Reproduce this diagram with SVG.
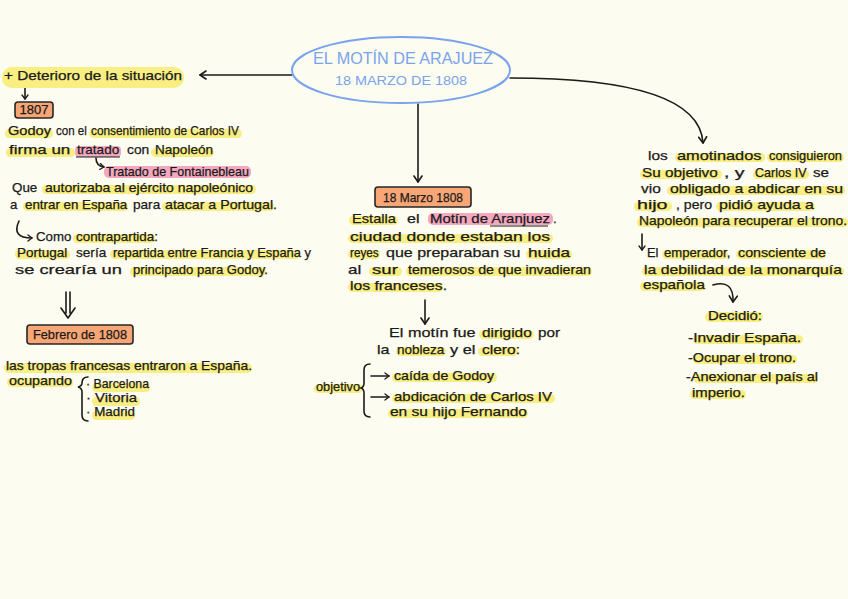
<svg xmlns="http://www.w3.org/2000/svg" width="848" height="599" viewBox="0 0 848 599">
<defs>
<style>
.t{font-family:"Liberation Sans",Arial,sans-serif;font-size:13px;fill:#1a1a1a;stroke:#1a1a1a;stroke-width:0.25}
.hy{fill:#f8ee82}
.hp{fill:#f4a8c0}
.box{fill:#f9a676;stroke:#262626;stroke-width:1.6}
.c{stroke:#1a1a1a;stroke-width:1.6;fill:none;stroke-linecap:round}
.ttl{font-family:"Liberation Sans",Arial,sans-serif;fill:#79a3ec;text-anchor:middle}
</style>
<marker id="ah" markerWidth="10" markerHeight="10" refX="7" refY="5" orient="auto" markerUnits="userSpaceOnUse"><path d="M1,1 L7,5 L1,9" fill="none" stroke="#1a1a1a" stroke-width="1.6" stroke-linecap="round" stroke-linejoin="round"/></marker>
<marker id="ahs" markerWidth="8" markerHeight="8" refX="5" refY="4" orient="auto" markerUnits="userSpaceOnUse"><path d="M1,1 L5,4 L1,7" fill="none" stroke="#1a1a1a" stroke-width="1.3" stroke-linecap="round" stroke-linejoin="round"/></marker>
</defs>
<rect width="848" height="599" fill="#fdfcf0"/>

<g id="connectors">
<path class="c" d="M292 75 L200 75" marker-end="url(#ah)"/>
<path class="c" d="M418 104 L418 182" marker-end="url(#ah)"/>
<path class="c" d="M510 78 C610 78 700 92 703 143" marker-end="url(#ah)"/>
<path class="c" d="M25 87 L25 99" marker-end="url(#ahs)"/>
<path class="c" d="M96 158 Q96 166 104 167" stroke-width="1.2" marker-end="url(#ahs)"/>
<path class="c" d="M19 221 Q11 238 32 238" marker-end="url(#ahs)"/>
<path class="c" d="M66 292 L66 313 M70 292 L70 313 M61 308 L68 318 L75 308" stroke-linejoin="round"/>
<path class="c" d="M425 300 L425 324" marker-end="url(#ah)"/>
<path class="c" d="M371 376 L389 376" stroke-width="1.3" marker-end="url(#ahs)"/>
<path class="c" d="M371 397 L389 397" stroke-width="1.3" marker-end="url(#ahs)"/>
<path class="c" d="M642 234 L642 250" marker-end="url(#ahs)"/>
<path class="c" d="M713 285 Q734 279 733 302" marker-end="url(#ah)"/>
</g>

<g id="n-title">
<ellipse cx="401" cy="70" rx="109" ry="33" fill="none" stroke="#79a3ec" stroke-width="2"/>
<text class="ttl" x="403" y="64" font-size="16" textLength="180" lengthAdjust="spacingAndGlyphs">EL MOTÍN DE ARAJUEZ</text>
<text class="ttl" x="401" y="85" font-size="13" textLength="132" lengthAdjust="spacingAndGlyphs">18 MARZO DE 1808</text>
</g>

<g id="n-deterioro">
<rect class="hy" x="2" y="67" width="182" height="21" rx="10"/>
<text class="t" y="80" font-size="16"><tspan x="4" textLength="178" lengthAdjust="spacingAndGlyphs">+ Deterioro de la situación</tspan></text>
</g>

<g id="n-1807">
<rect class="box" x="15" y="102" width="38" height="16" rx="3"/>
<text class="t" x="34" y="114" font-size="11" text-anchor="middle">1807</text>
</g>

<g id="n-godoy">
<rect class="hy" x="5" y="129" width="48" height="9" rx="4.5"/>
<rect class="hy" x="89" y="129" width="153" height="9" rx="4.5"/>
<text class="t" y="135"><tspan x="8" textLength="47" lengthAdjust="spacingAndGlyphs">Godoy </tspan><tspan x="56" textLength="34" lengthAdjust="spacingAndGlyphs">con el </tspan><tspan x="91" textLength="148" lengthAdjust="spacingAndGlyphs">consentimiento de Carlos IV</tspan></text>
<rect class="hy" x="6" y="148" width="69" height="9" rx="4.5"/>
<rect class="hp" x="75" y="146" width="46" height="11" rx="4"/>
<rect class="hy" x="151" y="148" width="63" height="9" rx="4.5"/>
<path d="M76 157 L120 157" stroke="#1a1a1a" stroke-width="1.2"/>
<text class="t" y="154"><tspan x="9" textLength="66" lengthAdjust="spacingAndGlyphs">firma un </tspan><tspan x="77" textLength="46" lengthAdjust="spacingAndGlyphs">tratado </tspan><tspan x="127" textLength="26" lengthAdjust="spacingAndGlyphs">con </tspan><tspan x="155" textLength="58" lengthAdjust="spacingAndGlyphs">Napoleón</tspan></text>
<rect class="hp" x="104" y="166" width="147" height="12" rx="5"/>
<text class="t" y="176"><tspan x="106" textLength="143" lengthAdjust="spacingAndGlyphs">Tratado de Fontainebleau</tspan></text>
<rect class="hy" x="42" y="185" width="214" height="9" rx="4.5"/>
<text class="t" y="192"><tspan x="12" textLength="29" lengthAdjust="spacingAndGlyphs">Que </tspan><tspan x="45" textLength="208" lengthAdjust="spacingAndGlyphs">autorizaba al ejército napoleónico</tspan></text>
<rect class="hy" x="23" y="202" width="105" height="9" rx="4.5"/>
<rect class="hy" x="162" y="202" width="112" height="9" rx="4.5"/>
<text class="t" y="209"><tspan x="10" textLength="11" lengthAdjust="spacingAndGlyphs">a </tspan><tspan x="25" textLength="106" lengthAdjust="spacingAndGlyphs">entrar en España </tspan><tspan x="133" textLength="31" lengthAdjust="spacingAndGlyphs">para </tspan><tspan x="165" textLength="112" lengthAdjust="spacingAndGlyphs">atacar a Portugal.</tspan></text>
<rect class="hy" x="73" y="234" width="82" height="9" rx="4.5"/>
<text class="t" y="241"><tspan x="36" textLength="39" lengthAdjust="spacingAndGlyphs">Como </tspan><tspan x="76" textLength="82" lengthAdjust="spacingAndGlyphs">contrapartida:</tspan></text>
<rect class="hy" x="15" y="250" width="55" height="9" rx="4.5"/>
<rect class="hy" x="110" y="250" width="190" height="9" rx="4.5"/>
<text class="t" y="257"><tspan x="17" textLength="54" lengthAdjust="spacingAndGlyphs">Portugal </tspan><tspan x="76" textLength="34" lengthAdjust="spacingAndGlyphs">sería </tspan><tspan x="113" textLength="198" lengthAdjust="spacingAndGlyphs">repartida entre Francia y España y</tspan></text>
<rect class="hy" x="130" y="267" width="136" height="9" rx="4.5"/>
<text class="t" y="274"><tspan x="15" textLength="112" lengthAdjust="spacingAndGlyphs">se crearía un </tspan><tspan x="133" textLength="135" lengthAdjust="spacingAndGlyphs">principado para Godoy.</tspan></text>
</g>

<g id="n-febrero">
<rect class="box" x="27" y="325" width="106" height="19" rx="3"/>
<text class="t" x="80" y="339" font-size="12" text-anchor="middle" textLength="94" lengthAdjust="spacingAndGlyphs">Febrero de 1808</text>
</g>

<g id="n-tropas">
<rect class="hy" x="4" y="363" width="248" height="10" rx="5"/>
<text class="t" y="370"><tspan x="6" textLength="246" lengthAdjust="spacingAndGlyphs">las tropas francesas entraron a España.</tspan></text>
<rect class="hy" x="7" y="378" width="66" height="9" rx="4.5"/>
<text class="t" y="385"><tspan x="9" textLength="63" lengthAdjust="spacingAndGlyphs">ocupando</tspan></text>
<path class="c" d="M88 377 Q82 377 82 383 Q82 386 78 387 Q82 388 82 392 L82 415 Q82 421 88 421" stroke-width="1.4"/>
<rect class="hy" x="92" y="383" width="58" height="9" rx="4.5"/>
<rect class="hy" x="92" y="397" width="48" height="9" rx="4.5"/>
<rect class="hy" x="92" y="411" width="43" height="9" rx="4.5"/>
<text class="t" font-size="10" x="86" y="388" textLength="63" lengthAdjust="spacingAndGlyphs">· Barcelona</text>
<text class="t" font-size="10" x="86" y="402" textLength="51" lengthAdjust="spacingAndGlyphs">· Vitoria</text>
<text class="t" font-size="10" x="86" y="416" textLength="49" lengthAdjust="spacingAndGlyphs">· Madrid</text>
</g>

<g id="n-marzo">
<rect class="box" x="375" y="187" width="96" height="20" rx="3"/>
<text class="t" x="423" y="202" font-size="12" text-anchor="middle" textLength="80" lengthAdjust="spacingAndGlyphs">18 Marzo 1808</text>
</g>

<g id="n-estalla">
<rect class="hy" x="349" y="216" width="49" height="9" rx="4.5"/>
<rect class="hp" x="428" y="213" width="125" height="12" rx="5"/>
<path d="M490 226 L548 226" stroke="#1a1a1a" stroke-width="1.2"/>
<text class="t" y="223"><tspan x="352" textLength="48" lengthAdjust="spacingAndGlyphs">Estalla </tspan><tspan x="407" textLength="17" lengthAdjust="spacingAndGlyphs">el </tspan><tspan x="430" textLength="120" lengthAdjust="spacingAndGlyphs">Motín de Aranjuez</tspan><tspan x="553">.</tspan></text>
<rect class="hy" x="348" y="234" width="205" height="9" rx="4.5"/>
<text class="t" y="241"><tspan x="350" textLength="200" lengthAdjust="spacingAndGlyphs">ciudad donde estaban los</tspan></text>
<rect class="hy" x="348" y="250" width="32" height="9" rx="4.5"/>
<rect class="hy" x="526" y="250" width="46" height="9" rx="4.5"/>
<text class="t" y="257"><tspan x="350" textLength="32" lengthAdjust="spacingAndGlyphs">reyes </tspan><tspan x="386" textLength="139" lengthAdjust="spacingAndGlyphs">que preparaban su </tspan><tspan x="528" textLength="42" lengthAdjust="spacingAndGlyphs">huida</tspan></text>
<rect class="hy" x="369" y="267" width="33" height="9" rx="4.5"/>
<rect class="hy" x="406" y="267" width="186" height="9" rx="4.5"/>
<text class="t" y="274"><tspan x="348" textLength="18" lengthAdjust="spacingAndGlyphs">al </tspan><tspan x="372" textLength="31" lengthAdjust="spacingAndGlyphs">sur </tspan><tspan x="408" textLength="183" lengthAdjust="spacingAndGlyphs">temerosos de que invadieran</tspan></text>
<rect class="hy" x="348" y="283" width="95" height="9" rx="4.5"/>
<text class="t" y="290"><tspan x="350" textLength="97" lengthAdjust="spacingAndGlyphs">los franceses.</tspan></text>
</g>

<g id="n-motin">
<rect class="hy" x="479" y="330" width="55" height="9" rx="4.5"/>
<text class="t" y="337"><tspan x="389" textLength="91" lengthAdjust="spacingAndGlyphs">El motín fue </tspan><tspan x="482" textLength="54" lengthAdjust="spacingAndGlyphs">dirigido </tspan><tspan x="538" textLength="22" lengthAdjust="spacingAndGlyphs">por</tspan></text>
<rect class="hy" x="396" y="347" width="50" height="9" rx="4.5"/>
<rect class="hy" x="478" y="347" width="40" height="9" rx="4.5"/>
<text class="t" y="354"><tspan x="377" textLength="17" lengthAdjust="spacingAndGlyphs">la </tspan><tspan x="397" textLength="51" lengthAdjust="spacingAndGlyphs">nobleza </tspan><tspan x="450" textLength="30" lengthAdjust="spacingAndGlyphs">y el </tspan><tspan x="482" textLength="38" lengthAdjust="spacingAndGlyphs">clero:</tspan></text>
</g>

<g id="n-objetivo">
<rect class="hy" x="314" y="384" width="49" height="9" rx="4.5"/>
<text class="t" y="391"><tspan x="316" textLength="44" lengthAdjust="spacingAndGlyphs">objetivo</tspan></text>
<path class="c" d="M370 364 Q364 364 364 370 L364 383 Q364 387 361 388 Q364 389 364 393 L364 411 Q364 417 370 417" stroke-width="1.4"/>
<rect class="hy" x="392" y="373" width="105" height="9" rx="4.5"/>
<text class="t" y="380"><tspan x="394" textLength="100" lengthAdjust="spacingAndGlyphs">caída de Godoy</tspan></text>
<rect class="hy" x="392" y="394" width="163" height="9" rx="4.5"/>
<text class="t" y="401"><tspan x="394" textLength="158" lengthAdjust="spacingAndGlyphs">abdicación de Carlos IV</tspan></text>
<rect class="hy" x="388" y="409" width="140" height="9" rx="4.5"/>
<text class="t" y="416"><tspan x="390" textLength="137" lengthAdjust="spacingAndGlyphs">en su hijo Fernando</tspan></text>
</g>

<g id="n-amotinados">
<rect class="hy" x="675" y="153" width="90" height="9" rx="4.5"/>
<rect class="hy" x="767" y="153" width="77" height="9" rx="4.5"/>
<text class="t" y="160"><tspan x="648" textLength="24" lengthAdjust="spacingAndGlyphs">los </tspan><tspan x="677" textLength="89" lengthAdjust="spacingAndGlyphs">amotinados </tspan><tspan x="769" textLength="73" lengthAdjust="spacingAndGlyphs">consiguieron</tspan></text>
<rect class="hy" x="640" y="170" width="82" height="9" rx="4.5"/>
<rect class="hy" x="753" y="170" width="56" height="9" rx="4.5"/>
<text class="t" y="177"><tspan x="642" textLength="80" lengthAdjust="spacingAndGlyphs">Su objetivo </tspan><tspan x="724" textLength="26" lengthAdjust="spacingAndGlyphs">, y </tspan><tspan x="755" textLength="55" lengthAdjust="spacingAndGlyphs">Carlos IV </tspan><tspan x="813" textLength="16" lengthAdjust="spacingAndGlyphs">se</tspan></text>
<rect class="hy" x="667" y="186" width="178" height="9" rx="4.5"/>
<text class="t" y="193"><tspan x="641" textLength="24" lengthAdjust="spacingAndGlyphs">vio </tspan><tspan x="670" textLength="173" lengthAdjust="spacingAndGlyphs">obligado a abdicar en su</tspan></text>
<rect class="hy" x="634" y="202" width="38" height="9" rx="4.5"/>
<rect class="hy" x="716" y="202" width="99" height="9" rx="4.5"/>
<text class="t" y="209"><tspan x="637" textLength="36" lengthAdjust="spacingAndGlyphs">hijo </tspan><tspan x="676" textLength="40" lengthAdjust="spacingAndGlyphs">, pero </tspan><tspan x="719" textLength="95" lengthAdjust="spacingAndGlyphs">pidió ayuda a</tspan></text>
<rect class="hy" x="637" y="218" width="211" height="9" rx="4.5"/>
<text class="t" y="225"><tspan x="639" textLength="208" lengthAdjust="spacingAndGlyphs">Napoleón para recuperar el trono.</tspan></text>
</g>

<g id="n-emperador">
<rect class="hy" x="662" y="250" width="66" height="9" rx="4.5"/>
<rect class="hy" x="736" y="250" width="90" height="9" rx="4.5"/>
<text class="t" y="257"><tspan x="647" textLength="15" lengthAdjust="spacingAndGlyphs">El </tspan><tspan x="664" textLength="70" lengthAdjust="spacingAndGlyphs">emperador, </tspan><tspan x="738" textLength="88" lengthAdjust="spacingAndGlyphs">consciente de</tspan></text>
<rect class="hy" x="642" y="267" width="202" height="9" rx="4.5"/>
<text class="t" y="274"><tspan x="644" textLength="198" lengthAdjust="spacingAndGlyphs">la debilidad de la monarquía</tspan></text>
<rect class="hy" x="640" y="282" width="65" height="9" rx="4.5"/>
<text class="t" y="289"><tspan x="643" textLength="62" lengthAdjust="spacingAndGlyphs">española</tspan></text>
</g>

<g id="n-decidio">
<rect class="hy" x="705" y="312" width="58" height="10" rx="5"/>
<text class="t" y="320"><tspan x="708" textLength="54" lengthAdjust="spacingAndGlyphs">Decidió:</tspan></text>
<rect class="hy" x="693" y="335" width="110" height="9" rx="4.5"/>
<text class="t" y="342"><tspan x="688" textLength="113" lengthAdjust="spacingAndGlyphs">-Invadir España.</tspan></text>
<rect class="hy" x="693" y="355" width="104" height="9" rx="4.5"/>
<text class="t" y="362"><tspan x="688" textLength="108" lengthAdjust="spacingAndGlyphs">-Ocupar el trono.</tspan></text>
<rect class="hy" x="693" y="374" width="125" height="9" rx="4.5"/>
<text class="t" y="381"><tspan x="686" textLength="132" lengthAdjust="spacingAndGlyphs">-Anexionar el país al</tspan></text>
<rect class="hy" x="690" y="390" width="56" height="9" rx="4.5"/>
<text class="t" y="397"><tspan x="692" textLength="53" lengthAdjust="spacingAndGlyphs">imperio.</tspan></text>
</g>
</svg>
